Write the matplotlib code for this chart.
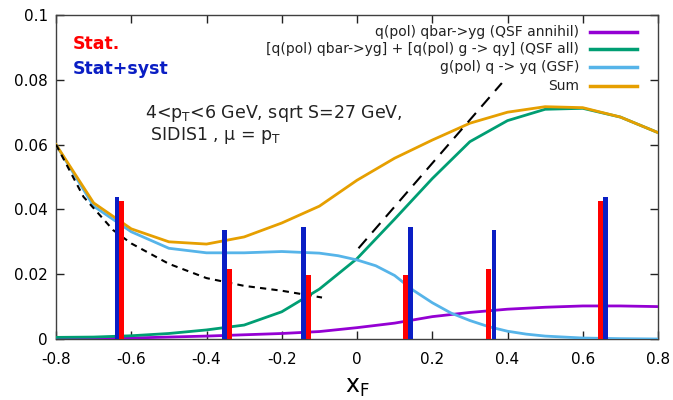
import matplotlib
matplotlib.use("Agg")
import matplotlib.pyplot as plt
from matplotlib.lines import Line2D

# ---------------- data ----------------
x_curve = [-0.8, -0.7, -0.6, -0.5, -0.4, -0.3, -0.2, -0.1, 0.0, 0.1, 0.2, 0.3, 0.4, 0.5, 0.6, 0.7, 0.8]
qsf_annihil = [0.0000, 0.0001, 0.0003, 0.0006, 0.0009, 0.0013, 0.0017, 0.0023, 0.0035, 0.0049, 0.0069,
               0.0082, 0.0092, 0.0098, 0.0102, 0.0102, 0.0100]
qsf_all = [0.0005, 0.0006, 0.0010, 0.0017, 0.0028, 0.0043, 0.0084, 0.0154, 0.0248, 0.0370, 0.0495,
           0.0609, 0.0674, 0.0709, 0.0712, 0.0685, 0.0637]
total = [0.0600, 0.0420, 0.0340, 0.0300, 0.0293, 0.0315, 0.0358, 0.0410, 0.0490, 0.0558, 0.0614,
         0.0666, 0.0700, 0.0717, 0.0714, 0.0685, 0.0637]

gsf_x = [-0.8, -0.7, -0.6, -0.5, -0.4, -0.3, -0.2, -0.1, -0.05, 0.0, 0.05, 0.1, 0.15, 0.2, 0.25,
         0.3, 0.35, 0.4, 0.45, 0.5, 0.6, 0.7, 0.8]
gsf = [0.0600, 0.0410, 0.0331, 0.0280, 0.0266, 0.0266, 0.0270, 0.0265, 0.0257, 0.0244, 0.0226,
       0.0196, 0.0150, 0.0112, 0.0080, 0.0057, 0.0038, 0.0024, 0.0015, 0.0009, 0.0003, 0.0001, 0.0000]

fit_x = [-0.8, -0.727, -0.648, -0.6, -0.5, -0.4, -0.3, -0.2, -0.093]
fit_y = [0.0600, 0.0439, 0.0336, 0.0295, 0.0232, 0.0188, 0.0164, 0.0149, 0.0128]

line_x = [0.004, 0.385]
line_y = [0.028, 0.079]

stat_x = [-0.627, -0.340, -0.128, 0.130, 0.350, 0.647]
stat_err = [0.0426, 0.0216, 0.0199, 0.0199, 0.0215, 0.0426]
syst_x = [-0.638, -0.353, -0.142, 0.142, 0.364, 0.660]
syst_err = [0.0438, 0.0336, 0.0347, 0.0347, 0.0336, 0.0438]

x_ticks = [-0.8, -0.6, -0.4, -0.2, 0.0, 0.2, 0.4, 0.6, 0.8]
x_ticklabels = ["-0.8", "-0.6", "-0.4", "-0.2", "0", "0.2", "0.4", "0.6", "0.8"]
y_ticks = [0.0, 0.02, 0.04, 0.06, 0.08, 0.1]
y_ticklabels = ["0", "0.02", "0.04", "0.06", "0.08", "0.1"]

labels = ["q(pol) qbar->yg (QSF annihil)",
          "[q(pol) qbar->yg] + [q(pol) g -> qy] (QSF all)",
          "g(pol) q -> yq (GSF)",
          "Sum"]
colors = ["#9400d3", "#009e73", "#56b4e9", "#e69f00"]

# ---------------- figure ----------------
fig = plt.figure(figsize=(6.73, 4.0), dpi=100)
ax = fig.add_axes([56 / 673, 61 / 400, 602 / 673, 324 / 400])

lw = 2.0
ax.plot(x_curve, qsf_annihil, color=colors[0], lw=lw, zorder=3)
ax.plot(x_curve, qsf_all, color=colors[1], lw=lw, zorder=3)
ax.plot(gsf_x, gsf, color=colors[2], lw=lw, zorder=3)
ax.plot(x_curve, total, color=colors[3], lw=lw, zorder=3)

ax.plot(fit_x, fit_y, color="black", lw=1.5, ls=(0, (3, 2.5)), zorder=4)
ax.plot(line_x, line_y, color="black", lw=1.5, ls=(0, (6, 4)), zorder=4)

bw = 0.013
ax.bar(stat_x, stat_err, width=bw, color="#ff0000", zorder=5)
ax.bar(syst_x, syst_err, width=bw, color="#0a1ec4", zorder=5)

ax.set_xlim(-0.8, 0.8)
ax.set_ylim(0, 0.1)
ax.set_xticks(x_ticks)
ax.set_xticklabels(x_ticklabels)
ax.set_yticks(y_ticks)
ax.set_yticklabels(y_ticklabels)
ax.tick_params(direction="in", top=True, right=True, length=6, width=1,
               labelsize=11, color="#222222", pad=9)
ax.tick_params(axis="y", pad=6)
for s in ax.spines.values():
    s.set_color("#404040")
    s.set_linewidth(1.0)

ax.set_xlabel(r"x$_\mathregular{F}$", fontsize=17, labelpad=6)

# legend (right-aligned text, sample on the right)
rows = [0.948, 0.894, 0.839, 0.782]
for lab, col, yy in zip(labels, colors, rows):
    ax.text(0.869, yy, lab, transform=ax.transAxes, ha="right", va="center",
            fontsize=10, color="#222222")
    ax.add_line(Line2D([0.887, 0.965], [yy, yy], transform=ax.transAxes,
                       color=col, lw=2.5))

ax.text(0.027, 0.912, "Stat.", transform=ax.transAxes, color="#ff0000",
        fontsize=12.5, fontweight="bold", va="center", ha="left")
ax.text(0.027, 0.834, "Stat+syst", transform=ax.transAxes, color="#0a1ec4",
        fontsize=12.5, fontweight="bold", va="center", ha="left")

ax.text(0.148, 0.697, r"4<p$_\mathregular{T}$<6 GeV, sqrt S=27 GeV,",
        transform=ax.transAxes, fontsize=12.5, color="#222222", va="center", ha="left")
ax.text(0.148, 0.628, r" SIDIS1 , μ = p$_\mathregular{T}$",
        transform=ax.transAxes, fontsize=12.5, color="#222222", va="center", ha="left")

fig.savefig("out.png", dpi=100)
